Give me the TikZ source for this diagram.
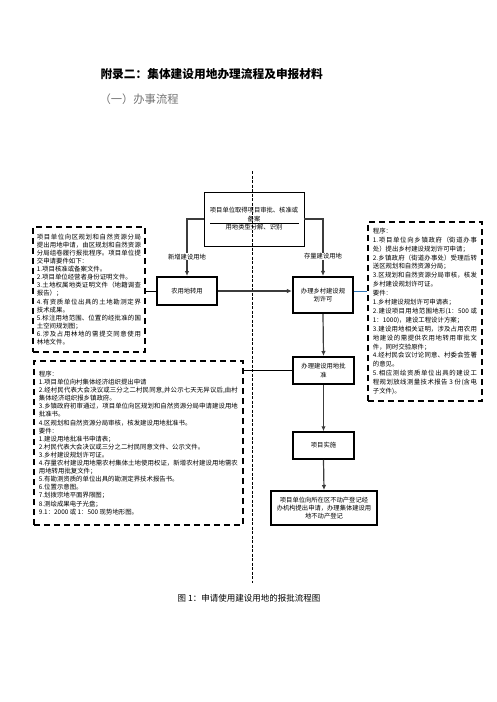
\documentclass[tikz,border=0pt]{standalone}
\usepackage{fontspec}
\setmainfont{Noto Sans CJK SC}
\usepackage{tikz}
\usetikzlibrary{arrows.meta,positioning,calc}
\XeTeXlinebreaklocale "zh"
\XeTeXlinebreakskip=0pt plus 1pt
\definecolor{linkgray}{RGB}{60,60,60}
\definecolor{linkblue}{RGB}{46,117,182}
\definecolor{subgray}{RGB}{115,115,115}

\begin{document}
\begin{tikzpicture}[x=1pt,y=-1pt,
    stepbox/.style={draw,rectangle,align=center,font=\fontsize{6.3}{8.4}\selectfont,inner sep=2pt},
    notebox/.style={draw,rectangle,line width=1.8pt,dash pattern=on 6pt off 4pt,anchor=north west,align=justify,font=\fontsize{6.4}{8.1}\selectfont,inner sep=4pt},
    flow/.style={draw=linkgray,line width=1.2pt,-{Latex[length=5pt,width=4.5pt]}},
    link/.style={draw=black,line width=0.9pt},
    branch/.style={fill=white,inner sep=0.5pt,font=\fontsize{6.3}{7}\selectfont},
    axisline/.style={line width=0.9pt,dash pattern=on 3pt off 1.5pt}]
        \useasboundingbox (0,0) rectangle (496,702);

        % Heading
        \node[anchor=west,font=\fontsize{11.7}{14}\selectfont\bfseries] (title) at (97,74) {附录二：集体建设用地办理流程及申报材料};
        \node[anchor=west,text=subgray,font=\fontsize{11.3}{13}\selectfont] (subtitle) at (96,99) {（一）办事流程};

        % Dividing line
        \coordinate (axtop) at (252,171);
        \coordinate (axbot) at (252,583);
        \draw[axisline] (axtop) -- (axbot);

        % Steps
        \node[stepbox,line width=0.8pt,minimum width=100,minimum height=54,font=\fontsize{6.3}{8.5}\selectfont] (approve) at (254,219) {
            项目单位取得项目审批、核准或\\备案\\用地类型分解、识别
        };
        \draw[line width=0.8pt] ($(approve.center)+(-44,4)$) -- ($(approve.center)+(45,4)$);
        \node[stepbox,line width=2pt,minimum width=60,minimum height=28] (nongyong) at (187,291) {农用地转用};
        \node[stepbox,line width=2.2pt,minimum width=60,minimum height=36] (guihua) at (323,295) {办理乡村建设规\\划许可};
        \node[stepbox,line width=2pt,minimum width=61,minimum height=27] (pizhun) at (323.5,370.5) {办理建设用地批\\准};
        \node[stepbox,line width=1.5pt,minimum width=61,minimum height=27] (shishi) at (323.5,445.5) {项目实施};
        \node[stepbox,line width=2pt,minimum width=106,minimum height=34,font=\fontsize{6.3}{8}\selectfont] (dengji) at (324,508) {
            项目单位向所在区不动产登记经\\办机构提出申请，办理集体建设用\\地不动产登记
        };

        % Materials
        \node[notebox,text width=104,minimum height=125] (shenqing) at (32,226) {
            项目单位向区规划和自然资源分局\linebreak
            提出用地申请，由区规划和自然资源\linebreak
            分局组卷履行报批程序。项目单位提\linebreak
            交申请要件如下：\\
            1.项目核准或备案文件。\\
            2.项目单位经营者身份证明文件。\\
            3.土地权属地类证明文件（地籍调查\linebreak
            报告）；\\
            4.有资质单位出具的土地勘测定界\linebreak
            技术成果。\\
            5.标注用地范围、位置的经批准的国\linebreak
            土空间规划图；\\
            6.涉及占用林地的需提交同意使用\linebreak
            林地文件。
        };
        \node[notebox,text width=104,minimum height=179,inner sep=5pt,font=\fontsize{6.4}{8.9}\selectfont] (ghyaojian) at (367,221) {
            程序：\\
            1.项目单位向乡镇政府（街道办事\linebreak
            处）提出乡村建设规划许可申请；\\
            2.乡镇政府（街道办事处）受理后转\linebreak
            送区规划和自然资源分局；\\
            3.区规划和自然资源分局审核，核发\linebreak
            乡村建设规划许可证。\\
            要件：\\
            1.乡村建设规划许可申请表；\\
            2.建设项目用地范围地形(1：500 或\linebreak
            1：1000)，建设工程设计方案；\\
            3.建设用地相关证明，涉及占用农用\linebreak
            地建设的需提供农用地转用审批文\linebreak
            件，同时交验原件；\\
            4.经村民会议讨论同意、村委会签署\linebreak
            的意见。\\
            5.相应测绘资质单位出具的建设工\linebreak
            程规划放线测量技术报告 3 份(含电\linebreak
            子文件)。
        };
        \node[notebox,text width=199,minimum height=164,inner sep=5pt] (pzyaojian) at (33,360) {
            程序：\\
            1.项目单位向村集体经济组织提出申请\\
            2.经村民代表大会决议或三分之二村民同意,并公示七天无异议后,由村\linebreak
            集体经济组织报乡镇政府。\\
            3.乡镇政府初审通过，项目单位向区规划和自然资源分局申请建设用地\linebreak
            批准书。\\
            4.区规划和自然资源分局审核，核发建设用地批准书。\\
            要件：\\
            1.建设用地批准书申请表；\\
            2.村民代表大会决议或三分之二村民同意文件、公示文件。\\
            3.乡村建设规划许可证。\\
            4.存量农村建设用地需农村集体土地使用权证，新增农村建设用地需农\linebreak
            用地转用批复文件；\\
            5.有勘测资质的单位出具的勘测定界技术报告书。\\
            6.位置示意图。\\
            7.划拨宗地平面界限图；\\
            8.测绘成果电子光盘；\\
            9.1：2000 或 1：500 现势地形图。
        };

        % Connectors
        \draw[flow] (approve.west) -| node[branch,pos=0.83] (xinzeng) {新增建设用地} (nongyong.north);
        \draw[flow] (approve.east) -| node[branch,pos=0.83] (cunliang) {存量建设用地} (guihua.north);
        \draw[link] (shenqing.east |- nongyong.west) -- (nongyong.west);
        \draw[flow] (nongyong.east) -- (nongyong.east -| guihua.west);
        \draw[link,draw=linkblue] (nongyong.east -| guihua.east) -- (nongyong.east -| ghyaojian.west);
        \draw[flow] (guihua.south) -- (pizhun.north);
        \draw[link] (pzyaojian.east |- pizhun.west) -- (pizhun.west);
        \draw[flow] (pizhun.south) -- (shishi.north);
        \draw[flow] (shishi.south) -- (dengji.north);

        % Caption
        \node[font=\fontsize{8.5}{10}\selectfont] (caption) at (249,598) {图 1：申请使用建设用地的报批流程图};
    \end{tikzpicture}
\end{document}
